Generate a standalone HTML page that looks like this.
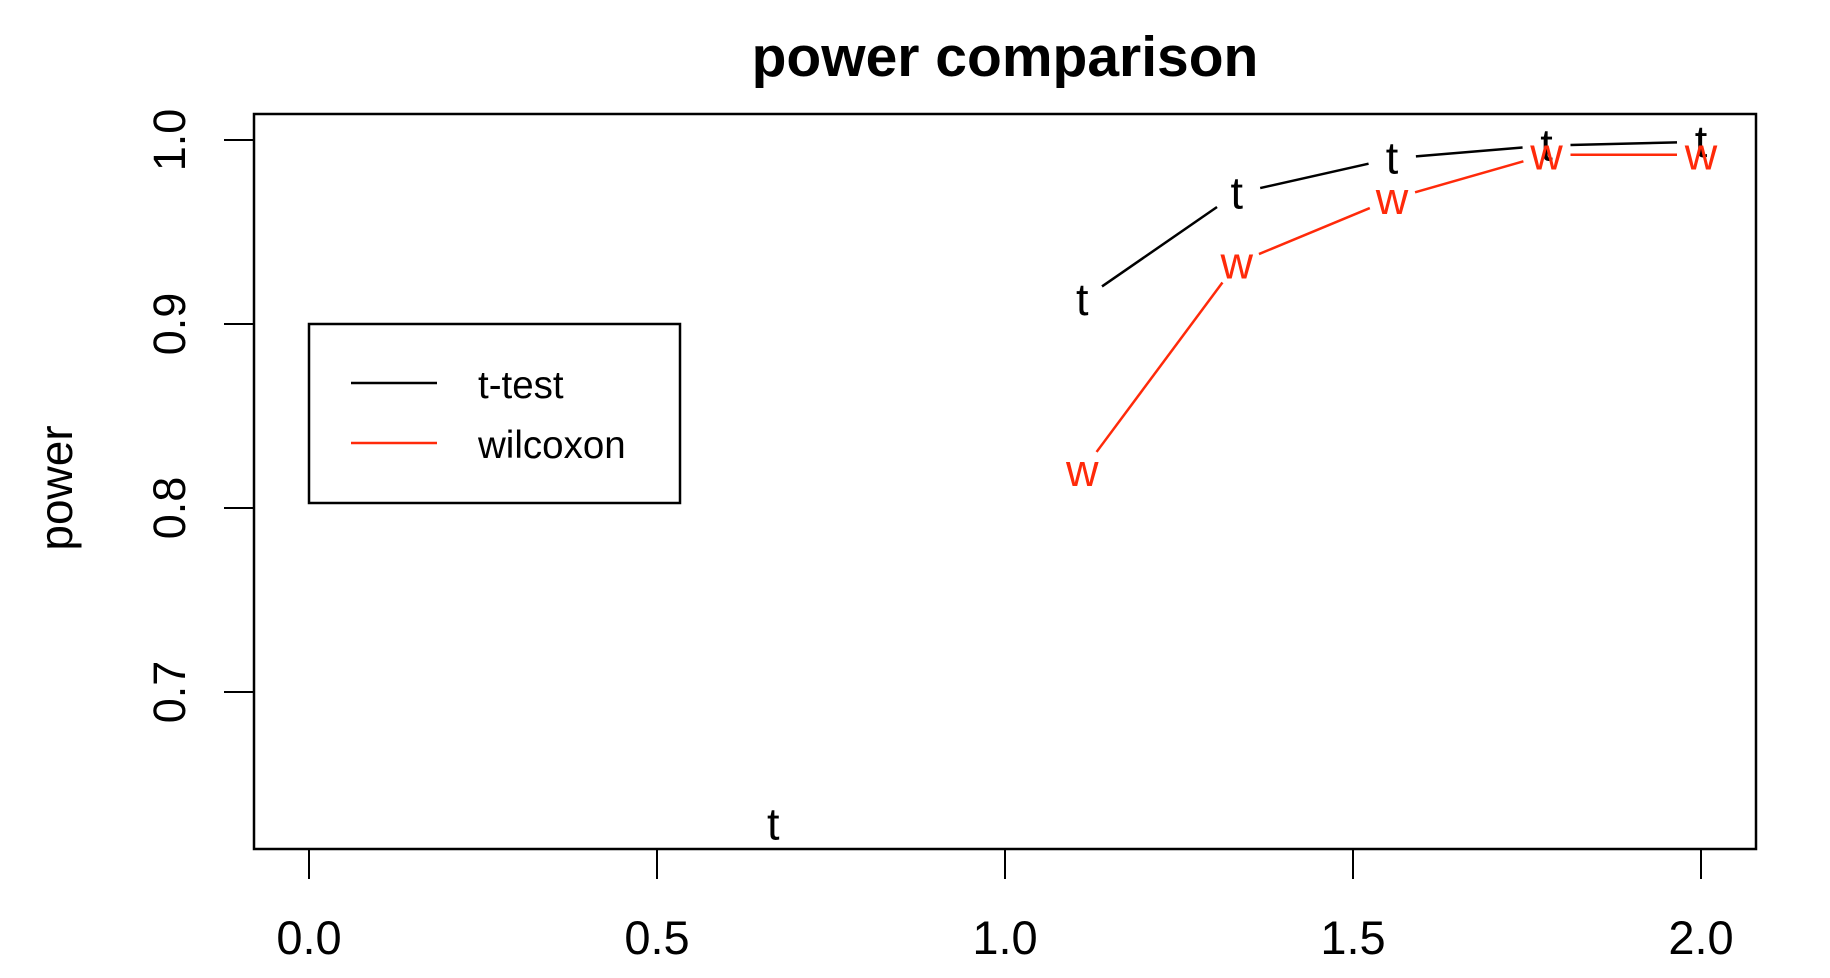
<!DOCTYPE html>
<html><head><meta charset="utf-8"><style>
html,body{margin:0;padding:0;background:#fff;}
svg{display:block;font-family:"Liberation Sans",Arial,sans-serif;}
</style></head><body>
<svg id="chart" width="1830" height="978" viewBox="0 0 1830 978">
<text x="1005" y="76" font-size="57" font-weight="bold" text-anchor="middle">power comparison</text>
<rect x="254" y="114" width="1502" height="735" fill="none" stroke="#000" stroke-width="2.5"/>
<text transform="translate(72,488) rotate(-90)" font-size="46" text-anchor="middle">power</text>
<g id="xaxis"></g>
<g id="yaxis"></g>
<g id="series"></g>
<g>
<rect x="309" y="324" width="371" height="179" fill="#fff" stroke="#000" stroke-width="2.5"/>
<line x1="351" y1="383" x2="437" y2="383" stroke="#000" stroke-width="2.5"/>
<text x="478" y="398" font-size="38.5">t-test</text>
<line x1="351" y1="443" x2="437" y2="443" stroke="#ff2a0a" stroke-width="2.5"/>
<text x="478" y="458" font-size="38.5">wilcoxon</text>
</g>
</svg>
<script>
const xTicks=[0,0.5,1,1.5,2];
const xTickLabels=["0.0","0.5","1.0","1.5","2.0"];
const yTicks=[0.7,0.8,0.9,1.0];
const yTickLabels=["0.7","0.8","0.9","1.0"];
const tX=[0.667,1.111,1.333,1.556,1.778,2.0];
const tPower=[0.628,0.913,0.971,0.990,0.997,0.999];
const tLineFrom=1;
const wX=[1.111,1.333,1.556,1.778,2.0];
const wPower=[0.820,0.933,0.968,0.992,0.992];
const NS="http://www.w3.org/2000/svg";
function sx(v){return 309+v*696;}
function sy(v){return 140+(1.0-v)*1840;}
function mk(tag,attrs,parent){const e=document.createElementNS(NS,tag);for(const k in attrs)e.setAttribute(k,attrs[k]);parent.appendChild(e);return e;}
const xa=document.getElementById('xaxis'),ya=document.getElementById('yaxis'),sg=document.getElementById('series');
xTicks.forEach((v,i)=>{
 const l=mk('line',{x1:sx(v),x2:sx(v),y1:849,y2:879,stroke:'#000','stroke-width':2},xa);
 
 
 const t=mk('text',{x:sx(v),y:954,'font-size':47,'text-anchor':'middle'},xa);
 t.textContent=xTickLabels[i];
 
 
});
yTicks.forEach((v,i)=>{
 const l=mk('line',{x1:224,x2:254,y1:sy(v),y2:sy(v),stroke:'#000','stroke-width':2},ya);
 
 
 const t=mk('text',{'font-size':45,'text-anchor':'middle',transform:`translate(185,${sy(v)}) rotate(-90)`},ya);
 t.textContent=yTickLabels[i];
 
 
});
function drawSeries(xs,ys,start,color,ch,name){
 const gap=24;
 for(let i=start;i<xs.length-1;i++){
  const x1=sx(xs[i]),y1=sy(ys[i]),x2=sx(xs[i+1]),y2=sy(ys[i+1]);
  const d=Math.hypot(x2-x1,y2-y1);if(d<=2*gap)continue;
  const ux=(x2-x1)/d,uy=(y2-y1)/d;
  const l=mk('line',{x1:x1+ux*gap,y1:y1+uy*gap,x2:x2-ux*gap,y2:y2-uy*gap,stroke:color,'stroke-width':2.5},sg);
  
  
 }
 xs.forEach((v,i)=>{
  const t=mk('text',{x:sx(v),y:sy(ys[i])+15,'font-size':45,'text-anchor':'middle',fill:color},sg);
  t.textContent=ch;
  
  
 });
}
drawSeries(tX,tPower,tLineFrom,'#000','t','t-test');
drawSeries(wX,wPower,0,'#ff2a0a','w','wilcoxon');
</script>
</body></html>
